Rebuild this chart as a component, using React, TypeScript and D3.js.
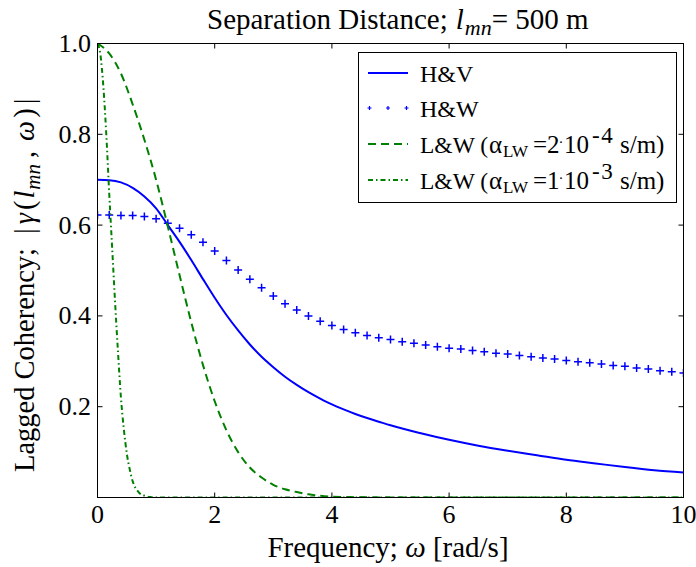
import React from "react";
import * as d3 from "d3";

// ---- data ----
const hvOmega = [0, 0.2, 0.4, 0.6, 0.8, 1.0, 1.2, 1.4, 1.6, 1.8, 2.0, 2.2, 2.4, 2.6, 2.8, 3.0, 3.2, 3.4, 3.6, 3.8, 4.0, 4.2, 4.4, 4.6, 4.8, 5.0, 5.5, 6.0, 6.5, 7.0, 7.5, 8.0, 8.5, 9.0, 9.5, 10];
const hvValues = [0.700, 0.699, 0.694, 0.682, 0.663, 0.637, 0.600, 0.563, 0.523, 0.481, 0.440, 0.402, 0.368, 0.337, 0.310, 0.287, 0.266, 0.248, 0.232, 0.218, 0.205, 0.194, 0.184, 0.175, 0.167, 0.159, 0.142, 0.127, 0.114, 0.103, 0.093, 0.083, 0.075, 0.067, 0.060, 0.055];

const hwOmega = [0, 0.2, 0.4, 0.6, 0.8, 1.0, 1.2, 1.4, 1.6, 1.8, 2.0, 2.2, 2.4, 2.6, 2.8, 3.0, 3.2, 3.4, 3.6, 3.8, 4.0, 4.2, 4.4, 4.6, 4.8, 5.0, 5.2, 5.4, 5.6, 5.8, 6.0, 6.2, 6.4, 6.6, 6.8, 7.0, 7.2, 7.4, 7.6, 7.8, 8.0, 8.2, 8.4, 8.6, 8.8, 9.0, 9.2, 9.4, 9.6, 9.8, 10.0];
const hwValues = [0.622, 0.622, 0.621, 0.621, 0.619, 0.614, 0.604, 0.593, 0.579, 0.562, 0.543, 0.522, 0.501, 0.481, 0.462, 0.444, 0.427, 0.413, 0.400, 0.388, 0.379, 0.370, 0.363, 0.357, 0.352, 0.348, 0.343, 0.340, 0.336, 0.332, 0.329, 0.327, 0.324, 0.321, 0.318, 0.316, 0.313, 0.310, 0.307, 0.305, 0.302, 0.299, 0.297, 0.294, 0.291, 0.289, 0.285, 0.283, 0.279, 0.277, 0.274];

const lw2Omega = [0, 0.2, 0.4, 0.6, 0.8, 1.0, 1.2, 1.4, 1.6, 1.8, 2.0, 2.2, 2.4, 2.6, 2.8, 3.0, 3.2, 3.4, 3.6, 3.8, 4.0, 4.5, 5.0, 10];
const lw2Values = [1.0, 0.978, 0.934, 0.866, 0.788, 0.700, 0.597, 0.490, 0.386, 0.292, 0.212, 0.148, 0.100, 0.066, 0.044, 0.028, 0.018, 0.012, 0.007, 0.004, 0.002, 0.0005, 0, 0];

const lw1Omega = [0, 0.05, 0.1, 0.15, 0.2, 0.25, 0.3, 0.35, 0.4, 0.45, 0.5, 0.55, 0.6, 0.7, 0.8, 0.9, 1.0, 10];
const lw1Values = [1.0, 0.975, 0.905, 0.80, 0.67, 0.55, 0.43, 0.32, 0.22, 0.15, 0.097, 0.062, 0.036, 0.012, 0.004, 0.001, 0, 0];

const xTicks = [0, 2, 4, 6, 8, 10];
const yTicks = [0.2, 0.4, 0.6, 0.8, 1.0];
const xTickLabels = ["0", "2", "4", "6", "8", "10"];
const yTickLabels = ["0.2", "0.4", "0.6", "0.8", "1.0"];

const W = 696, H = 567;
const L = 97.5, R = 683.5, T = 43.5, B = 497.5;
const FONT = "Liberation Serif";
const BLUE = "#0000ff";
const GREEN = "#008000";

function LWLabel({ x0, y0, coef, exp }: { x0: number; y0: number; coef: string; exp: string }) {
  return (
    <g style={{ fontFamily: FONT }} fill="#000">
      <text x={x0} y={y0} fontSize={23.5}>L&amp;W (</text>
      <text x={x0 + 69} y={y0} fontSize={25}>α</text>
      <text x={x0 + 83} y={y0 + 4} fontSize={17}>LW</text>
      <text x={x0 + 113} y={y0} fontSize={25}>=</text>
      <text x={x0 + 127} y={y0} fontSize={25}>{coef}</text>
      <text x={x0 + 138.5} y={y0 - 6} fontSize={15}>·</text>
      <text x={x0 + 144} y={y0} fontSize={25}>10</text>
      <text x={x0 + 172} y={y0 - 10} fontSize={23} letterSpacing={1.5}>{exp}</text>
      <text x={x0 + 200} y={y0} fontSize={25}>s/m)</text>
    </g>
  );
}

export default function App() {
  const x = d3.scaleLinear().domain([0, 10]).range([L, R]);
  const y = d3.scaleLinear().domain([0, 1]).range([B, T]);

  const mk = (om: number[], vals: number[]) =>
    d3.line<number>().x((_, i) => x(om[i])).y((v) => y(v)).curve(d3.curveMonotoneX)(vals) || "";

  const hvPath = mk(hvOmega, hvValues);
  const lw2Path = mk(lw2Omega, lw2Values);
  const lw1Path = mk(lw1Omega, lw1Values);

  const plus = (cx: number, cy: number, h: number) => `M${cx - h},${cy}H${cx + h}M${cx},${cy - h}V${cy + h}`;
  const hwPath = hwValues.map((v, i) => plus(x(hwOmega[i]), y(v), 4)).join("");

  const tickLen = 5;
  const legX = 358.5, legY = 52.5, legW = 318, legH = 150;
  const rowY = [73, 108, 144, 180];
  const hx0 = 368, hx1 = 408, tx = 420;
  const tf = { fontFamily: FONT };

  return (
    <svg width={W} height={H} style={{ position: "absolute", left: 0, top: 0, background: "#fff", fontFamily: FONT }}>
      <rect x={0} y={0} width={W} height={H} fill="#fff" />
      <defs>
        <clipPath id="plotclip">
          <rect x={L} y={T} width={R - L} height={B - T} />
        </clipPath>
      </defs>

      <g clipPath="url(#plotclip)" fill="none">
        <path d={hvPath} stroke={BLUE} strokeWidth={2} />
        <path d={hwPath} stroke={BLUE} strokeWidth={1.5} />
        <path d={lw2Path} stroke={GREEN} strokeWidth={2} strokeDasharray="8,5" />
        <path d={lw1Path} stroke={GREEN} strokeWidth={2} strokeDasharray="5,3,1.5,3" />
      </g>

      {/* frame */}
      <rect x={L} y={T} width={R - L} height={B - T} fill="none" stroke="#000" strokeWidth={1} />

      {/* ticks */}
      {xTicks.map((t) => (
        <g key={"xt" + t} stroke="#000" strokeWidth={1}>
          <line x1={x(t)} x2={x(t)} y1={B} y2={B - tickLen} />
          <line x1={x(t)} x2={x(t)} y1={T} y2={T + tickLen} />
        </g>
      ))}
      {yTicks.map((t) => (
        <g key={"yt" + t} stroke="#000" strokeWidth={1}>
          <line x1={L} x2={L + tickLen} y1={y(t)} y2={y(t)} />
          <line x1={R} x2={R - tickLen} y1={y(t)} y2={y(t)} />
        </g>
      ))}
      {xTicks.map((t, i) => (
        <text key={"xl" + t} style={tf} x={x(t)} y={523} fontSize={26} textAnchor="middle" fill="#000">{xTickLabels[i]}</text>
      ))}
      {yTicks.map((t, i) => (
        <text key={"yl" + t} style={tf} x={91} y={y(t) + 8.5} fontSize={26} textAnchor="end" fill="#000">{yTickLabels[i]}</text>
      ))}

      {/* title */}
      <text style={tf} x={207} y={29} fontSize={29} fill="#000">
        Separation Distance;<tspan dx={8} fontStyle="italic">l</tspan>
        <tspan fontStyle="italic" fontSize={22} dy={6} dx={1}>mn</tspan>
        <tspan dy={-6}>= 500 m</tspan>
      </text>

      {/* x label */}
      <text style={tf} x={388} y={557} fontSize={29} textAnchor="middle" fill="#000">
        Frequency; <tspan fontStyle="italic">ω</tspan> [rad/s]
      </text>

      {/* y label */}
      <text style={tf} transform="translate(34,472) rotate(-90)" fontSize={28.5} textAnchor="start" fill="#000">
        Lagged Coherency;<tspan dx={14}>|</tspan>
        <tspan fontStyle="italic" dx={4}>γ</tspan>
        <tspan dx={3}>(</tspan>
        <tspan fontStyle="italic" dx={2}>l</tspan>
        <tspan fontStyle="italic" fontSize={21} dy={6} dx={1}>mn</tspan>
        <tspan dy={-6} dx={6}>,</tspan>
        <tspan fontStyle="italic" dx={10}>ω</tspan>
        <tspan dx={3}>)</tspan>
        <tspan dx={4}>|</tspan>
      </text>

      {/* legend */}
      <rect x={legX} y={legY} width={legW} height={legH} fill="#fff" stroke="#000" strokeWidth={1} />
      <line x1={hx0} x2={hx1} y1={rowY[0]} y2={rowY[0]} stroke={BLUE} strokeWidth={2} />
      <path d={[hx0 + 1.5, (hx0 + hx1) / 2, hx1 - 1.5].map((cx) => plus(cx, rowY[1], 2)).join("")} stroke={BLUE} strokeWidth={1.2} fill="none" />
      <line x1={hx0} x2={hx1} y1={rowY[2]} y2={rowY[2]} stroke={GREEN} strokeWidth={2} strokeDasharray="8,5" />
      <line x1={hx0} x2={hx1} y1={rowY[3]} y2={rowY[3]} stroke={GREEN} strokeWidth={2} strokeDasharray="5,3,1.5,3" />

      <text style={tf} x={tx} y={rowY[0] + 8.5} fontSize={24} fill="#000">H&amp;V</text>
      <text style={tf} x={tx} y={rowY[1] + 8.5} fontSize={24} fill="#000">H&amp;W</text>
      <LWLabel x0={tx} y0={rowY[2] + 8.5} coef="2" exp="-4" />
      <LWLabel x0={tx} y0={rowY[3] + 8.5} coef="1" exp="-3" />
    </svg>
  );
}
